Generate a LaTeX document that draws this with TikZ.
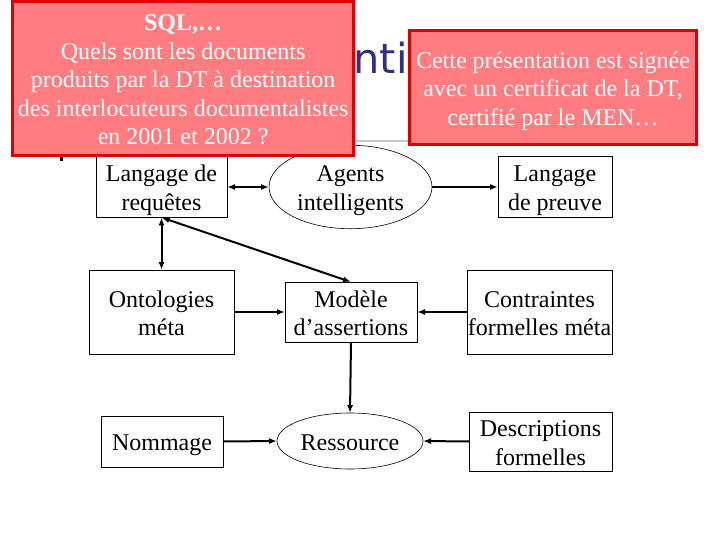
\documentclass[tikz,border=0pt]{standalone}
\usepackage{fontspec}
\setmainfont{Liberation Serif}
\newfontfamily\titlefont{DejaVu Sans}
\usetikzlibrary{arrows.meta,shapes.geometric}
\definecolor{redfill}{RGB}{255,125,128}
\definecolor{redline}{RGB}{222,0,0}
\definecolor{titleblue}{RGB}{46,46,140}
\definecolor{rulegrey}{RGB}{200,200,200}
\newcommand\topstr{\rule{0pt}{24.5pt}}
\newcommand\botstr{\rule[-6pt]{0pt}{6pt}}
\tikzset{
  diag/.style={font=\fontsize{24}{28.5}\selectfont, align=center, inner sep=0pt, outer sep=0pt},
  rbox/.style={diag, draw=black, line width=0.9pt, rectangle},
  ebox/.style={diag, draw=black, line width=0.6pt, ellipse},
  conn/.style={line width=2pt, -{Latex[length=8pt,width=6pt]}},
  conntwo/.style={line width=2pt, {Latex[length=8pt,width=6pt]}-{Latex[length=8pt,width=6pt]}},
  note/.style={diag, rectangle, draw=redline, fill=redfill, line width=3pt, text=white},
}
\begin{document}
\begin{tikzpicture}[x=1pt,y=-1pt]
\useasboundingbox (0,0) rectangle (720,540);
% rule under title
\draw[rulegrey, line width=2.5pt] (40,141) -- (690,141);
% title (partly hidden)
\node[anchor=base west, inner sep=0pt, text=titleblue, font=\titlefont\fontsize{41.5}{48}\selectfont] (title) at (328,73.3) {anti};
\fill (60,157.5) rectangle (62.5,161);
% diagram nodes
\node[rbox, minimum width=131pt, minimum height=61pt] (req) at (161.5,187) {\topstr Langage de\\requêtes\botstr};
\node[ebox, minimum width=163pt, minimum height=60pt] (agents) at (350.5,187) {\topstr Agents\\intelligents\botstr};
\node[rbox, minimum width=114pt, minimum height=61pt] (preuve) at (555,187) {\topstr Langage\\de preuve\botstr};
\node[rbox, minimum width=145pt, minimum height=84pt] (onto) at (161.5,312) {\topstr Ontologies\\méta\botstr};
\node[rbox, minimum width=132pt, minimum height=60pt] (modele) at (351,312) {\topstr Modèle\\d’assertions\botstr};
\node[rbox, minimum width=145pt, minimum height=84pt] (contr) at (539.5,312) {\topstr Contraintes\\formelles méta\botstr};
\node[rbox, minimum width=122pt, minimum height=51pt] (nom) at (162,441.5) {\topstr Nommage\botstr};
\node[ebox, minimum width=146pt, minimum height=56pt] (res) at (350,441) {\topstr Ressource\botstr};
\node[rbox, minimum width=143pt, minimum height=55pt] (descr) at (540.5,441.5) {\topstr Descriptions\\formelles\botstr};
% connectors
\draw[conntwo] (req.east) -- (agents.west);
\draw[conn] (agents.east) -- (preuve.west);
\draw[conntwo] (req.south) -- (onto.north);
\draw[conntwo] (req.south) -- (modele.north);
\draw[conn] (onto.east) -- (modele.west);
\draw[conn] (contr.west) -- (modele.east);
\draw[conn] (modele.south) -- (res.north);
\draw[conn] (nom.east) -- (res.west);
\draw[conn] (descr.west) -- (res.east);
% red callouts
\node[note, minimum width=341.3pt, minimum height=154.4pt] (sql) at (183.15,78.5)
  {\topstr\textbf{SQL,…}\\Quels sont les documents\\produits par la DT à destination\\des interlocuteurs documentalistes\\en 2001 et 2002 ?\botstr};
\node[note, minimum width=287.6pt, minimum height=113.4pt] (cert) at (553,87.5)
  {\topstr Cette présentation est signée\\avec un certificat de la DT,\\certifié par le MEN…\botstr};
\end{tikzpicture}
\end{document}
